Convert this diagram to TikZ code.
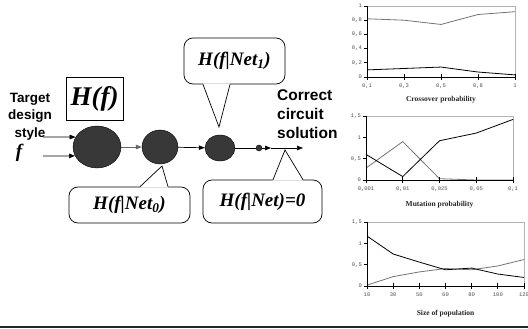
\documentclass[tikz,border=0pt]{standalone}
\usepackage{fontspec}
\setmainfont{Liberation Serif}
\setsansfont{Liberation Sans}
\setmonofont{Liberation Mono}
\usetikzlibrary{shapes.geometric, arrows.meta, positioning, calc}
\tikzset{
  stage/.style={
    ellipse,
    draw=black,
    fill=black!78,
    inner sep=0pt
  },
  infobox/.style={
    rectangle,
    draw=black,
    line width=0.7pt,
    inner sep=0pt,
    minimum width=57pt,
    minimum height=43pt,
    font=\fontsize{27}{29}\selectfont\bfseries\itshape
  },
  bubble/.style={
    rectangle,
    rounded corners=9pt,
    draw=black,
    line width=0.7pt,
    inner sep=0pt,
    font=\fontsize{19}{21}\selectfont\bfseries\itshape
  },
  pointer/.style={
    draw=black,
    line width=0.7pt
  },
  caption/.style={
    inner sep=0pt,
    font=\sffamily\bfseries
  },
  arrow/.style={
    line width=0.7pt,
    -{Triangle[length=6pt,width=4.5pt]}
  },
  axis/.style={
    line width=0.8pt,
    black
  },
  frame/.style={
    gray!60,
    line width=0.4pt
  },
  ticklabel/.style={
    inner sep=0pt,
    text=black!70,
    font=\fontsize{5.5}{6}\selectfont\ttfamily
  },
  charttitle/.style={
    inner sep=0pt,
    text=black!85,
    font=\fontsize{7.5}{8}\selectfont\bfseries
  },
  darkline/.style={
    black,
    line width=0.8pt
  },
  greyline/.style={
    black!55,
    line width=0.8pt
  }
}

\begin{document}
\begin{tikzpicture}[x=1pt,y=-1pt]
  \useasboundingbox (0,0) rectangle (528,329);

  % Input labels
  \node (target) [caption, align=center, anchor=north,
    font=\fontsize{13.5}{17.5}\selectfont\sffamily\bfseries] at (30,93) {Target\\design\\style};
  \node (fvar) [font=\fontsize{19}{21}\selectfont\bfseries\itshape] at (19,153) {f};
  \node (hbox) [infobox] at (94.5,98.5) {H(f)};

  % Stages
  \node (s1) [stage, minimum width=48pt, minimum height=42pt] at (97,147) {};
  \node (s2) [stage, minimum width=36pt, minimum height=34pt] at (160,147) {};
  \node (s3) [stage, minimum width=30pt, minimum height=26pt] at (220,148) {};
  \node (s4) [stage, minimum width=6pt, minimum height=6pt] at (259,148) {};
  \coordinate (in1) at (43,137);
  \coordinate (in2) at (43,156);
  \coordinate (mid) at (271,148);
  \coordinate (out) at (303,148);

  \draw[arrow] (in1) -- (s1.155);
  \draw[arrow] (in2) -- (s1.202);
  \draw[arrow, black!60] (s1) -- (s2);
  \draw[arrow] (s2) -- (s3);
  \draw[line width=0.7pt] (s3) -- (s4);
  \draw[arrow] (s4) -- (mid);
  \draw[arrow] (mid) -- (out);

  \node (result) [caption, align=left, anchor=north west,
    font=\fontsize{15.5}{19}\selectfont\sffamily\bfseries] at (277,89) {Correct\\circuit\\solution};

  % Callouts
  \node (net1) [bubble, minimum width=101pt, minimum height=46pt] at (234.5,61) {H(f|Net\textsubscript{1})};
  \coordinate (tip1) at (219,127);
  \fill[white] ([xshift=-31.5pt,yshift=1pt]net1.south) -- (tip1) -- ([xshift=-4.5pt,yshift=1pt]net1.south) -- cycle;
  \draw[pointer] ([xshift=-31.5pt]net1.south) -- (tip1) -- ([xshift=-4.5pt]net1.south);

  \node (net0) [bubble, minimum width=121pt, minimum height=36pt] at (129.5,205) {H(f|Net\textsubscript{0})};
  \coordinate (tip0) at (162,166);
  \fill[white] ([xshift=10.5pt,yshift=-1pt]net0.north) -- (tip0) -- ([xshift=38.5pt,yshift=-1pt]net0.north) -- cycle;
  \draw[pointer] ([xshift=10.5pt]net0.north) -- (tip0) -- ([xshift=38.5pt]net0.north);

  \node (net) [bubble, minimum width=119pt, minimum height=43pt] at (262.5,201.5) {H(f|Net)=0};
  \coordinate (tipn) at (285,150);
  \fill[white] ([xshift=10.5pt,yshift=-1pt]net.north) -- (tipn) -- ([xshift=40.5pt,yshift=-1pt]net.north) -- cycle;
  \draw[pointer] ([xshift=10.5pt]net.north) -- (tipn) -- ([xshift=40.5pt]net.north);

  % Chart: crossover probability
  \begin{scope}[shift={(367,77)}, x=37pt, y=71pt]
    \draw[frame] (0,1) -- (4,1) -- (4,0);
    \draw[greyline] (0,0.82) -- (1,0.80) -- (2,0.74) -- (3,0.88) -- (4,0.92);
    \draw[darkline] (0,0.10) -- (1,0.12) -- (2,0.14) -- (3,0.07) -- (4,0.03);
    \draw[axis] (0,1) -- (0,0) -- (4,0);
    \foreach \v/\t [count=\i] in {0/0, 0.2/{0,2}, 0.4/{0,4}, 0.6/{0,6}, 0.8/{0,8}, 1/1} {
      \draw[axis] (0,\v) -- ++(-3pt,0);
      \node (cy\i) [ticklabel, anchor=east] at ([xshift=-5pt]0,\v) {\t};
    }
    \foreach \t [count=\i from 0] in {{0,1}, {0,3}, {0,5}, {0,8}, 1} {
      \draw[axis] ([yshift=-3pt]\i,0) -- ([yshift=3pt]\i,0);
      \node (cx\i) [ticklabel, anchor=north] at ([yshift=-7pt]\i,0) {\t};
    }
    \node (ctitle) [charttitle] at ([yshift=-23pt]2,0) {Crossover probability};
  \end{scope}

  % Chart: mutation probability
  \begin{scope}[shift={(366,180)}, x=36.75pt, y=42.67pt]
    \draw[frame] (0,1.5) -- (4,1.5) -- (4,0);
    \draw[greyline] (0,0.28) -- (1,0.90) -- (2,0.03) -- (3,0) -- (4,0);
    \draw[darkline] (0,0.60) -- (1,0.08) -- (2,0.92) -- (3,1.10) -- (4,1.42);
    \draw[axis] (0,1.5) -- (0,0) -- (4,0);
    \foreach \v/\t [count=\i] in {0/0, 0.5/{0,5}, 1/1, 1.5/{1,5}} {
      \draw[axis] (0,\v) -- ++(-3pt,0);
      \node (my\i) [ticklabel, anchor=east] at ([xshift=-5pt]0,\v) {\t};
    }
    \foreach \t [count=\i from 0] in {{0,001}, {0,01}, {0,025}, {0,05}, {0,1}} {
      \draw[axis] ([yshift=-3pt]\i,0) -- ([yshift=3pt]\i,0);
      \node (mx\i) [ticklabel, anchor=north] at ([yshift=-7pt]\i,0) {\t};
    }
    \node (mtitle) [charttitle] at ([yshift=-25pt]2,0) {Mutation probability};
  \end{scope}

  % Chart: size of population
  \begin{scope}[shift={(367,286)}, x=26.17pt, y=42.67pt]
    \draw[frame] (0,1.5) -- (6,1.5) -- (6,0);
    \draw[greyline] (0,0.02) -- (1,0.22) -- (2,0.33) -- (3,0.41) -- (4,0.38) -- (5,0.47) -- (6,0.62);
    \draw[darkline] (0,1.17) -- (1,0.75) -- (2,0.56) -- (3,0.38) -- (4,0.42) -- (5,0.28) -- (6,0.20);
    \draw[axis] (0,1.5) -- (0,0) -- (6,0);
    \foreach \v/\t [count=\i] in {0/0, 0.5/{0,5}, 1/1, 1.5/{1,5}} {
      \draw[axis] (0,\v) -- ++(-3pt,0);
      \node (py\i) [ticklabel, anchor=east] at ([xshift=-5pt]0,\v) {\t};
    }
    \foreach \t [count=\i from 0] in {10, 30, 50, 60, 80, 100, 120} {
      \draw[axis] ([yshift=-3pt]\i,0) -- ([yshift=3pt]\i,0);
      \node (px\i) [ticklabel, anchor=north] at ([yshift=-7pt]\i,0) {\t};
    }
    \node (ptitle) [charttitle] at ([yshift=-28pt]3,0) {Size of population};
  \end{scope}

  % Bottom rule
  \draw[line width=1.5pt, black!85] (0,327) -- (528,327);
\end{tikzpicture}
\end{document}
